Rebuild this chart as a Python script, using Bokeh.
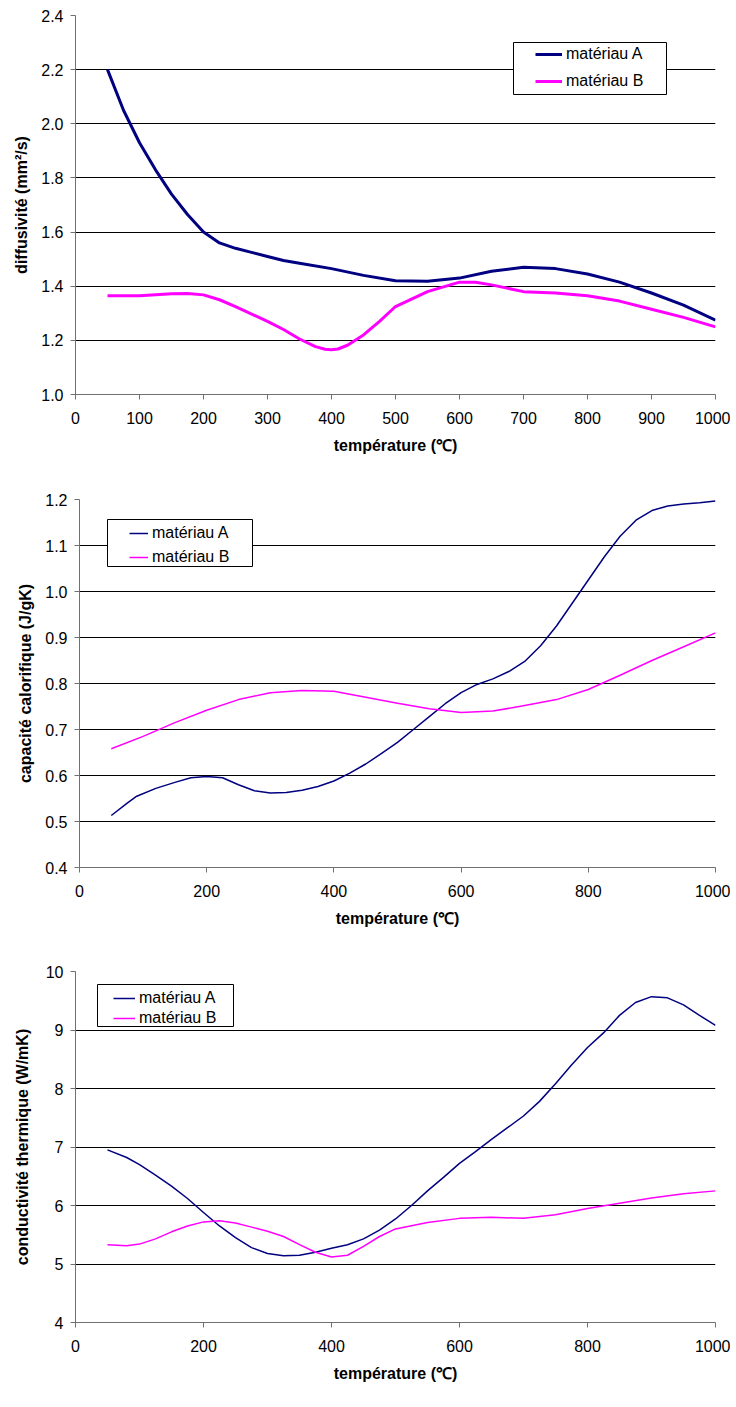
from bokeh.plotting import figure
from bokeh.models import FixedTicker, Range1d, BoxAnnotation, Legend, LegendItem, PrintfTickFormatter
from bokeh.embed import file_html
from bokeh.resources import INLINE

# ---------------- data ----------------
diff_A_x = [50, 75, 100, 125, 150, 175, 200, 225, 250, 275, 300, 325, 350, 400, 450, 500, 550, 600, 650, 700, 750, 800, 850, 900, 950, 1000]
diff_A_y = [2.20, 2.05, 1.93, 1.83, 1.74, 1.665, 1.60, 1.56, 1.54, 1.525, 1.51, 1.495, 1.485, 1.465, 1.44, 1.42, 1.418, 1.43, 1.455, 1.47, 1.465, 1.445, 1.415, 1.375, 1.33, 1.275]
diff_B_x = [50, 100, 150, 175, 200, 225, 250, 300, 325, 350, 375, 390, 400, 410, 425, 450, 475, 500, 550, 600, 625, 650, 700, 750, 800, 850, 900, 950, 1000]
diff_B_y = [1.365, 1.365, 1.372, 1.373, 1.368, 1.35, 1.325, 1.27, 1.24, 1.205, 1.177, 1.167, 1.165, 1.168, 1.182, 1.22, 1.27, 1.325, 1.38, 1.415, 1.415, 1.405, 1.38, 1.375, 1.365, 1.345, 1.315, 1.285, 1.25]

cap_A_x = [50, 75, 90, 120, 150, 175, 200, 225, 250, 275, 300, 325, 350, 375, 400, 425, 450, 475, 500, 525, 550, 575, 600, 625, 650, 675, 700, 725, 750, 775, 800, 825, 850, 875, 900, 925, 950, 975, 1000]
cap_A_y = [0.513, 0.54, 0.555, 0.572, 0.585, 0.595, 0.598, 0.595, 0.58, 0.567, 0.562, 0.563, 0.568, 0.576, 0.588, 0.605, 0.625, 0.648, 0.672, 0.70, 0.728, 0.756, 0.78, 0.798, 0.81, 0.826, 0.848, 0.882, 0.925, 0.975, 1.025, 1.075, 1.12, 1.155, 1.176, 1.186, 1.19, 1.193, 1.197]
cap_B_x = [50, 100, 150, 200, 250, 300, 350, 400, 450, 500, 550, 600, 650, 700, 750, 800, 850, 900, 950, 1000]
cap_B_y = [0.658, 0.685, 0.715, 0.742, 0.765, 0.78, 0.785, 0.783, 0.77, 0.757, 0.745, 0.737, 0.74, 0.752, 0.765, 0.787, 0.818, 0.85, 0.88, 0.91]

cond_A_x = [50, 80, 100, 125, 150, 175, 200, 225, 250, 275, 300, 325, 350, 375, 400, 425, 450, 475, 500, 525, 550, 575, 600, 625, 650, 675, 700, 725, 750, 775, 800, 825, 850, 875, 900, 925, 950, 975, 1000]
cond_A_y = [6.95, 6.82, 6.70, 6.52, 6.33, 6.12, 5.88, 5.65, 5.45, 5.28, 5.18, 5.14, 5.15, 5.20, 5.27, 5.33, 5.43, 5.58, 5.77, 6.0, 6.25, 6.48, 6.72, 6.92, 7.13, 7.33, 7.53, 7.78, 8.08, 8.40, 8.70, 8.95, 9.25, 9.47, 9.57, 9.55, 9.43, 9.25, 9.08]
cond_B_x = [50, 80, 100, 125, 150, 175, 200, 225, 250, 275, 300, 325, 350, 375, 400, 425, 450, 475, 500, 550, 600, 650, 700, 750, 800, 850, 900, 950, 1000]
cond_B_y = [5.33, 5.31, 5.34, 5.43, 5.55, 5.65, 5.72, 5.74, 5.70, 5.63, 5.56, 5.47, 5.33, 5.20, 5.12, 5.15, 5.30, 5.47, 5.60, 5.71, 5.78, 5.80, 5.78, 5.84, 5.95, 6.04, 6.13, 6.20, 6.25]

series_names = ["matériau A", "matériau B"]
x_title = "température (\u2103)"
y_titles = ["diffusivité (mm²/s)", "capacité calorifique (J/gK)", "conductivité thermique (W/mK)"]
x_ticks_1 = [0, 100, 200, 300, 400, 500, 600, 700, 800, 900, 1000]
x_ticks_23 = [0, 200, 400, 600, 800, 1000]
y_ticks_1 = [1.0, 1.2, 1.4, 1.6, 1.8, 2.0, 2.2, 2.4]
y_ticks_2 = [0.4, 0.5, 0.6, 0.7, 0.8, 0.9, 1.0, 1.1, 1.2]
y_ticks_3 = [4, 5, 6, 7, 8, 9, 10]

COL_A = "#000080"
COL_B = "#FF00FF"
FONT = "Liberation Sans"


def make(xa, ya, xb, yb, ytitle, xticks, yticks, fw, fh, bl, bt, bb, lw, yfmt,
         ylab_standoff, box, glyph_in, glyph_len, text_in, row1, row_sp):
    x0, x1 = 0, 1000
    y0, y1 = yticks[0], yticks[-1]
    p = figure(frame_width=fw, frame_height=fh, output_backend="svg", toolbar_location=None,
               x_range=Range1d(x0, x1), y_range=Range1d(y0, y1),
               min_border_left=bl, min_border_right=736 - 6 - bl - fw,
               min_border_top=bt, min_border_bottom=bb)
    p.outline_line_color = None
    p.background_fill_color = "white"
    p.border_fill_color = "white"
    p.xgrid.visible = False
    p.ygrid.grid_line_color = "black"
    p.ygrid.grid_line_width = 1
    p.ygrid.ticker = FixedTicker(ticks=yticks)
    p.xaxis.ticker = FixedTicker(ticks=xticks)
    p.yaxis.ticker = FixedTicker(ticks=yticks)
    if yfmt:
        p.yaxis.formatter = PrintfTickFormatter(format=yfmt)
    for ax in (p.xaxis[0], p.yaxis[0]):
        ax.axis_line_color = "#707070"
        ax.major_tick_line_color = "#707070"
        ax.major_tick_out = 5
        ax.major_tick_in = 0
        ax.minor_tick_line_color = None
        ax.major_label_text_font = FONT
        ax.major_label_text_font_size = "16px"
        ax.major_label_text_color = "black"
        ax.axis_label_text_font = FONT
        ax.axis_label_text_font_size = "16px"
        ax.axis_label_text_font_style = "bold"
        ax.axis_label_text_color = "black"
        ax.axis_label_text_line_height = 1.0
    p.xaxis.axis_label = x_title
    p.yaxis.axis_label = ytitle
    p.xaxis.major_label_standoff = 12
    p.xaxis.axis_label_standoff = 10
    p.yaxis.major_label_standoff = 7
    p.yaxis.axis_label_standoff = ylab_standoff

    ra = p.line(xa, ya, line_color=COL_A, line_width=lw, line_join="round")
    rb = p.line(xb, yb, line_color=COL_B, line_width=lw, line_join="round")

    # legend frame (pixel offsets from the frame's top-left, converted to data units)
    bl_px, br_px, bt_px, bb_px = box
    sx = (x1 - x0) / fw
    sy = (y1 - y0) / fh
    frame_box = BoxAnnotation(left=x0 + bl_px * sx, right=x0 + br_px * sx,
                              top=y1 - bt_px * sy, bottom=y1 - bb_px * sy,
                              fill_color="white", fill_alpha=1.0,
                              line_color="black", line_width=1, line_alpha=1.0)
    p.add_layout(frame_box)

    lab_h = 18
    lg = Legend(items=[LegendItem(label=series_names[0], renderers=[ra]),
                       LegendItem(label=series_names[1], renderers=[rb])])
    lg.border_line_color = None
    lg.background_fill_alpha = 0
    lg.label_text_font = FONT
    lg.label_text_font_size = "16px"
    lg.label_text_color = "black"
    lg.glyph_width = glyph_len
    lg.glyph_height = 14
    lg.label_height = lab_h
    lg.label_standoff = text_in - glyph_in - glyph_len
    lg.padding = 0
    lg.spacing = row_sp - lab_h
    lg.margin = 0
    leg_bottom_from_top = bt_px + row1 + row_sp + lab_h / 2
    lg.location = (bl_px + glyph_in, fh - leg_bottom_from_top)
    p.add_layout(lg)
    return p


# figure 1: frame 75..715 x 15..394
p1 = make(diff_A_x, diff_A_y, diff_B_x, diff_B_y, y_titles[0], x_ticks_1, y_ticks_1,
          640, 379, 75, 15, 76, 3, "%.1f", 8,
          (438, 591, 27, 79), 22, 27, 53, 12, 27)
# figure 2: frame 79..715 x 499..867
p2 = make(cap_A_x, cap_A_y, cap_B_x, cap_B_y, y_titles[1], x_ticks_23, y_ticks_2,
          636, 368, 79, 29, 73, 1.5, "%.1f", 8,
          (28, 173, 20, 67), 22, 19, 45, 14, 24)
# figure 3: frame 75..715 x 971..1322
p3 = make(cond_A_x, cond_A_y, cond_B_x, cond_B_y, y_titles[2], x_ticks_23, y_ticks_3,
          640, 351, 75, 31, 83, 1.5, None, 12,
          (22, 158, 13, 55), 16, 22, 42, 14, 20)

# three separate roots stacked on the page (keeps each frame's own left edge)
open("out.html", "w").write(file_html([p1, p2, p3], INLINE))
